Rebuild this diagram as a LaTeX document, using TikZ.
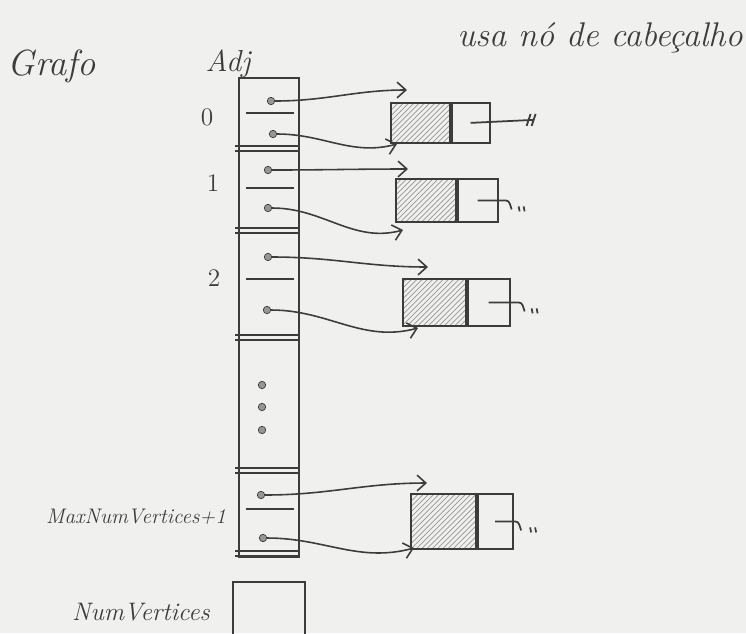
\documentclass[tikz,border=0pt]{standalone}
\usepackage{tikz}
\usetikzlibrary{positioning,calc}
\usetikzlibrary{arrows.meta,patterns}
\definecolor{Pencil}{RGB}{60,60,60}
\definecolor{Hatch}{RGB}{150,150,150}
\definecolor{Paper}{RGB}{240,240,238}
\tikzset{
  pen/.style={draw=Pencil,line width=1pt},
  arr/.style={draw=Pencil,line width=0.9pt,-{Straight Barb[length=5pt,width=9pt]}},
  vec/.style={draw=Pencil,line width=1pt,inner sep=0pt},
  hr/.style={draw=Pencil,line width=1pt,inner sep=0pt,minimum width=0.8cm,minimum height=0.86cm},
  hl/.style={hr,minimum width=1.2cm,pattern=north east lines,pattern color=Hatch},
}
\tikzset{dotp/.style={circle,draw=Pencil,fill=Hatch,inner sep=1.5pt}, big/.style={font=\LARGE\itshape,text=Pencil},lbl/.style={font=\large\itshape,text=Pencil}}

\begin{document}
\begin{tikzpicture}[x=0.02cm,y=-0.02cm]
\useasboundingbox[fill=Paper] (0,0) rectangle (746,633);
\clip (0,0) rectangle (746,633);
% titles
\node[big,font=\huge\itshape] (grafo) at (52,66) {Grafo};
\node[big] (adjlab) at (228,64) {Adj};
\node[big,font=\fontsize{19.5}{22}\selectfont\itshape] (nota) at (600,38) {usa nó de cabeçalho};
% the Adj vector
\node[vec,anchor=north west,minimum width=1.2cm,minimum height=9.58cm] (adj) at (238,77) {};
\foreach \y in {146,228,335,468,551}
  \draw[pen] (235,\y) -- (300,\y) (235,\y+5) -- (300,\y+5);
\foreach \y in {113,188,279,509}
  \draw[pen] (246,\y) -- (294,\y);
\node[font=\Large,text=Pencil] (i0) at (207,117) {0};
\node[font=\Large,text=Pencil] (i1) at (213,183) {1};
\node[font=\Large,text=Pencil] (i2) at (214,278) {2};
\node[lbl,anchor=east] (maxv) at (232,517) {MaxNumVertices+1};
% pointers
\node[dotp] (p0a) at (271,101) {};
\node[dotp] (p0b) at (273,134) {};
\node[dotp] (p1a) at (268,170) {};
\node[dotp] (p1b) at (268,208) {};
\node[dotp] (p2a) at (268,257) {};
\node[dotp] (p2b) at (267,310) {};
\node[dotp] (p3a) at (261,495) {};
\node[dotp] (p3b) at (263,538) {};
\foreach \y in {385,407,430}
  \node[dotp] (e\y) at (262,\y) {};
% header nodes
\node[hl,anchor=north west,minimum height=0.8cm,minimum width=1.18cm] (h0l) at (390,102) {};
\node[hr,right=0pt of h0l,minimum height=0.8cm,minimum width=0.76cm] (h0r) {};
\node[hl,anchor=north west] (h1l) at (395,178) {};
\node[hr,right=0pt of h1l] (h1r) {};
\node[hl,anchor=north west,minimum height=0.94cm,minimum width=1.26cm] (h2l) at (402,278) {};
\node[hr,right=0pt of h2l,minimum height=0.94cm,minimum width=0.84cm] (h2r) {};
\node[hl,anchor=north west,minimum height=1.1cm,minimum width=1.3cm] (h3l) at (410,493) {};
\node[hr,right=0pt of h3l,minimum height=1.1cm,minimum width=0.7cm] (h3r) {};
\coordinate (t0a) at (407,90);
\coordinate (t0b) at (397,144);
\coordinate (t1a) at (408,169);
\coordinate (t1b) at (403,230);
\coordinate (t2a) at (428,267);
\coordinate (t2b) at (418,328);
\coordinate (t3a) at (427,483);
\coordinate (t3b) at (414,548);
\draw[arr] (p0a) to[out=0,in=180] (t0a);
\draw[arr] (p0b) to[out=0,in=195] (t0b);
\draw[arr] (p1a) to[out=0,in=180] (t1a);
\draw[arr] (p1b) to[out=0,in=195] (t1b);
\draw[arr] (p2a) to[out=0,in=180] (t2a);
\draw[arr] (p2b) to[out=0,in=195] (t2b);
\draw[arr] (p3a) to[out=0,in=180] (t3a);
\draw[arr] (p3b) to[out=0,in=195] (t3b);
% next of the header: null
\draw[pen] (h0r.center) -- ++(63,-3) coordinate (n0);
\draw[pen] ($(n0)+(-7,6)$) -- ++(4,-12) ($(n0)+(-2,6)$) -- ++(4,-12);
\draw[pen] (h1r.center) -- ++(28,0) to[out=0,in=110] ++(6,9) coordinate (n1);
\draw[pen] ($(n1)+(7,-3)$) -- ++(1,5) ($(n1)+(12,-3)$) -- ++(1,5);
\draw[pen] (h2r.center) -- ++(30,0) to[out=0,in=110] ++(6,9) coordinate (n2);
\draw[pen] ($(n2)+(7,-3)$) -- ++(1,5) ($(n2)+(12,-3)$) -- ++(1,5);
\draw[pen] (h3r.center) -- ++(20,0) to[out=0,in=110] ++(6,9) coordinate (n3);
\draw[pen] ($(n3)+(9,-3)$) -- ++(1,5) ($(n3)+(14,-3)$) -- ++(1,5);
% NumVertices
\node[vec,anchor=north west,minimum width=1.44cm,minimum height=1.4cm] (numv) at (232,581) {};
\node[lbl,font=\Large\itshape] (numlab) at (141,612) {NumVertices};
\end{tikzpicture}
\end{document}
